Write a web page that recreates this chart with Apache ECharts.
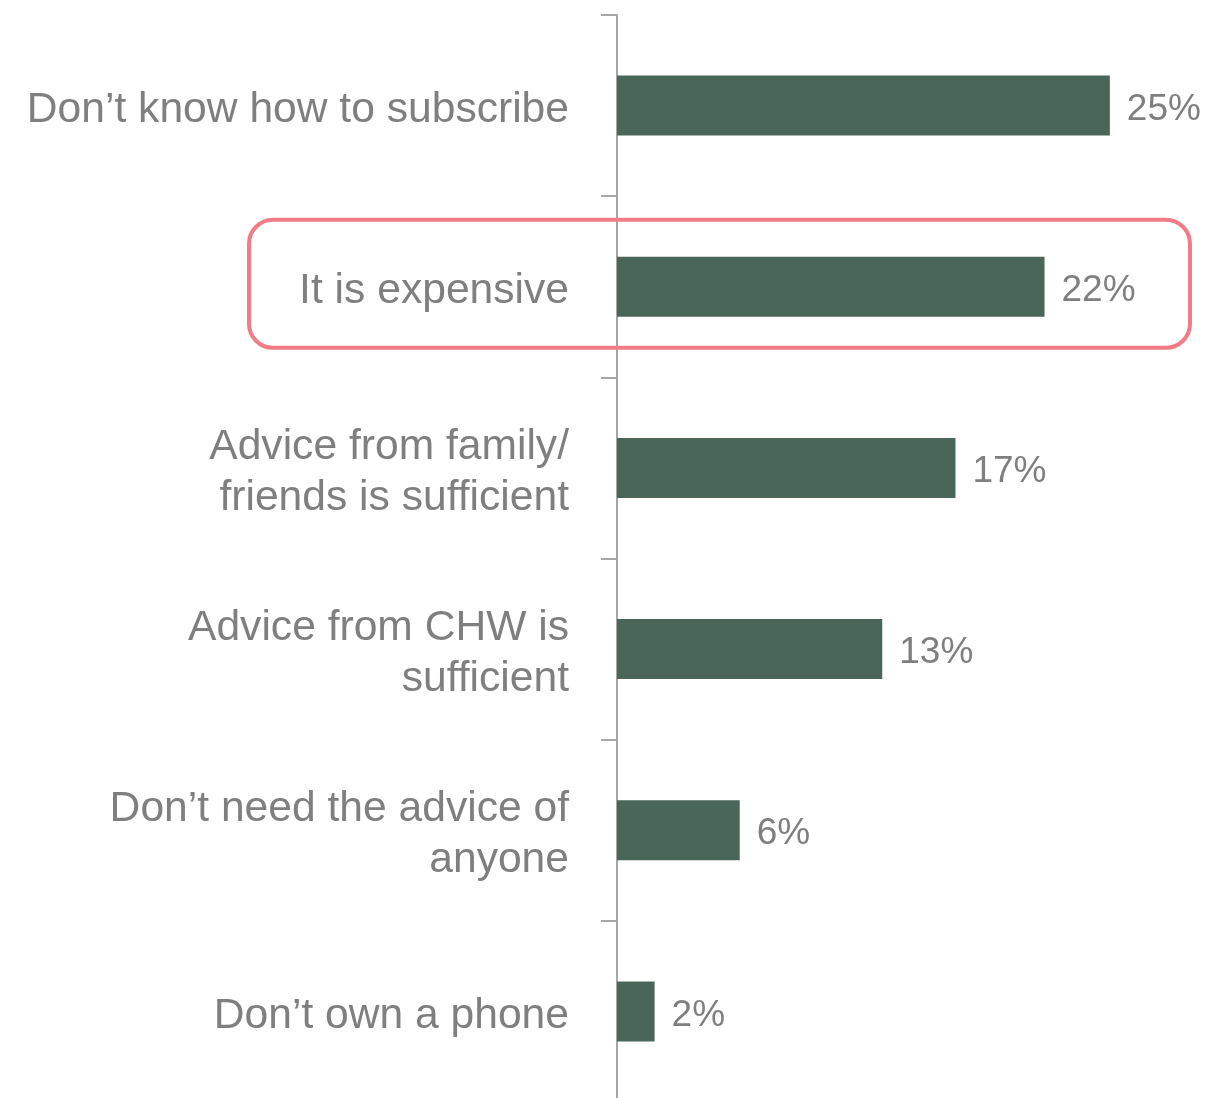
<!DOCTYPE html>
<html>
<head>
<meta charset="utf-8">
<script src="https://cdn.jsdelivr.net/npm/echarts@6/dist/echarts.min.js"></script>
<style>
  html, body { margin: 0; padding: 0; background: #fff; overflow: hidden; }
  #chart { width: 1205px; height: 1110px; }
</style>
</head>
<body>
<div id="chart"></div>
<script>
// categories, top to bottom
var categories = [
  'Don\u2019t know how to subscribe',
  'It is expensive',
  'Advice from family/\nfriends is sufficient',
  'Advice from CHW is\nsufficient',
  'Don\u2019t need the advice of\nanyone',
  'Don\u2019t own a phone'
];
// share of respondents (%)
var values = [24.9, 21.6, 17.1, 13.4, 6.2, 1.9];
var highlightIndex = 1;

var labelFont = 'Liberation Sans, Arial, sans-serif';
var chart = echarts.init(document.getElementById('chart'));

var option = {
  animation: false,
  // 图表高度比窗口略高, 最后一格在底边被裁掉
  grid: { left: 617, right: 14, top: 15, bottom: 8 },
  xAxis: {
    type: 'value',
    min: 0,
    max: 29,
    show: false
  },
  yAxis: {
    type: 'category',
    inverse: true,
    data: categories,
    axisLine: { show: true, lineStyle: { color: '#a6a6a6', width: 2 } },
    axisTick: { show: true, length: 16, lineStyle: { color: '#a6a6a6', width: 2 } },
    axisLabel: {
      margin: 48,
      align: 'right',
      // 顶部加一行小空白, 让文字整体下移几像素
      formatter: function (v) {
        var lines = v.split('\n');
        var out = '{s| }';
        for (var i = 0; i < lines.length; i++) {
          out += '\n{t|' + lines[i] + '}';
        }
        return out;
      },
      rich: {
        s: { fontSize: 1, lineHeight: 9 },
        t: {
          color: '#7f7f7f',
          fontFamily: labelFont,
          fontSize: 42.6,
          lineHeight: 51
        }
      }
    }
  },
  series: [{
    type: 'bar',
    data: values,
    barWidth: 60,
    itemStyle: { color: '#4a6659' },
    label: {
      show: true,
      position: 'right',
      distance: 17,
      offset: [0, 4],
      color: '#7f7f7f',
      fontFamily: labelFont,
      fontSize: 37,
      formatter: function (p) { return Math.round(p.value) + '%'; }
    }
  }]
};
chart.setOption(option);

// 高亮框: rounded outline around the "It is expensive" row
var cy = chart.convertToPixel({ yAxisIndex: 0 }, categories[highlightIndex]);
chart.setOption({
  graphic: [{
    type: 'rect',
    shape: { x: 249, y: cy - 67, width: 941, height: 128, r: 24 },
    style: { fill: 'none', stroke: '#f07c85', lineWidth: 4 },
    z: 100
  }]
});
</script>
</body>
</html>
